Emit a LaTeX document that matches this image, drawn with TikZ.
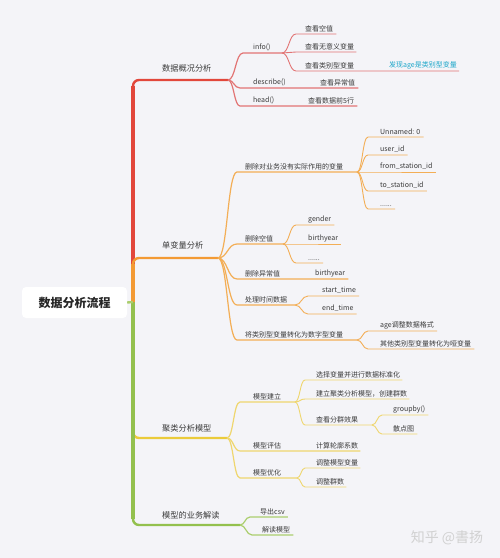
\documentclass[tikz,border=0pt]{standalone}
\usepackage{fontspec}
\setmainfont{Noto Sans CJK SC}
\usetikzlibrary{calc, positioning}
\definecolor{bgc}{HTML}{F4F4F8}
\definecolor{txtc}{HTML}{3A3A3A}
\definecolor{cRed}{HTML}{E2473B}
\definecolor{redL}{HTML}{E27474}
\definecolor{cOrange}{HTML}{F39A34}
\definecolor{orgL}{HTML}{F3AE56}
\definecolor{cYellow}{HTML}{EBCB3A}
\definecolor{yelL}{HTML}{EFD66E}
\definecolor{cGreen}{HTML}{93C04E}
\definecolor{grnL}{HTML}{ABCE6E}
\definecolor{cCyan}{HTML}{1BA6C9}
\tikzset{
    txt/.style={anchor=south west, inner xsep=0pt, inner ysep=2pt,
        font=\fontsize{7}{8}\selectfont, text=txtc},
    mainlbl/.style={anchor=west, inner sep=0pt,
        font=\fontsize{8.2}{9}\selectfont, text=txtc},
    rootbox/.style={fill=white, rounded corners=4pt, minimum width=105pt,
        minimum height=31pt, font=\fontsize{12}{13}\bfseries, text=black!85},
    trunk/.style={line width=2.4pt, rounded corners=6pt},
    spineV/.style={line width=3.8pt},
    brA/.style={line width=1.2pt, #1},
    brB/.style={line width=0.9pt, #1},
    sb/.style={to path={let \p1=(\tikztostart), \p2=(\tikztotarget) in
        .. controls (\x1/2+\x2/2,\y1) and (\x1/2+\x2/2,\y2) .. (\tikztotarget)}}
}

\begin{document}
\begin{tikzpicture}[x=1pt, y=-1pt]
    \fill[bgc] (0,0) rectangle (500,558);
    \useasboundingbox (0,0) rectangle (500,558);
    % spine
    \coordinate (sp) at (133,302);
    \coordinate (j1) at (228,80);
    \coordinate (j2) at (218,258);
    \coordinate (j3) at (227,438);
    \coordinate (j4) at (240,525);
    \draw[trunk, cYellow] (sp) |- (j3);
    \draw[trunk, cGreen] (sp) |- (j4);
    \draw[spineV, cGreen] (sp) -- ($(sp |- j4)+(0,-6)$);
    \draw[trunk, cRed] (sp) |- (j1);
    \draw[spineV, cRed] (sp) -- ($(sp |- j1)+(0,6)$);
    \draw[trunk, cOrange] (sp) |- (j2);
    \draw[spineV, cOrange] (sp) -- ($(sp |- j2)+(0,6)$);
    \node[rootbox] (root) at (74.5,302.5) {数据分析流程};
    \draw[line width=2.4pt, grnL] (root.east) -- (sp);
    \node[mainlbl] (m1) at (162,68) {数据概况分析};
    \node[mainlbl] (m2) at (162,245) {单变量分析};
    \node[mainlbl] (m3) at (162,428) {聚类分析模型};
    \node[mainlbl] (m4) at (162,515) {模型的业务解读};

    % 数据概况分析
    \node[txt] (info) at (253,53) {info()};
    \coordinate (info-j) at (282,53);
    \draw[brA=redL] (j1) to[sb] ([xshift=-10pt]info.south west) -- (info-j);
    \node[txt] (kong) at (305,34) {查看空值};
    \node[txt] (wuyi) at (305,52) {查看无意义变量};
    \node[txt] (leib) at (305,71) {查看类别型变量};
    \node[txt, text=cCyan] (age1) at (389,71) {发现age是类别型变量};
    \draw[brB=redL] (info-j) to[sb] ([xshift=-9pt]kong.south west) -- ([xshift=3pt]kong.south east);
    \draw[brB=redL] (info-j) to[sb] ([xshift=-9pt]wuyi.south west) -- ([xshift=2pt]wuyi.south east);
    \draw[brB=redL] (info-j) to[sb] ([xshift=-9pt]leib.south west) -- ([xshift=2pt]age1.south east);
    \node[txt] (desc) at (253,88) {describe()};
    \node[txt] (yic) at (320,88) {查看异常值};
    \draw[brA=redL] (j1) to[sb] ([xshift=-13pt]desc.south west) -- ([xshift=3pt]yic.south east);
    \node[txt] (head) at (253,106) {head()};
    \node[txt] (qian5) at (308,106) {查看数据前5行};
    \draw[brA=redL] (j1) to[sb] ([xshift=-13pt]head.south west) -- ([xshift=3pt]qian5.south east);

    % 单变量分析
    \node[txt] (o1) at (245,172) {删除对业务没有实际作用的变量};
    \coordinate (o1-j) at (357,172);
    \draw[brA=orgL] (j2) to[sb] ([xshift=-8pt]o1.south west) -- (o1-j);
    \node[txt] (unnamed) at (380,137) {Unnamed: 0};
    \node[txt] (userid) at (380,155) {user\_id};
    \node[txt] (fromid) at (380,172) {from\_station\_id};
    \node[txt] (toid) at (380,191) {to\_station\_id};
    \node[txt] (dots1) at (380,209) {......};
    \foreach \n in {unnamed, userid, fromid, toid, dots1}
        \draw[brB=orgL] (o1-j) to[sb] ([xshift=-12pt]\n.south west) -- ([xshift=3pt]\n.south east);
    \node[txt] (o2) at (245,244) {删除空值};
    \coordinate (o2-j) at (283,244);
    \draw[brA=orgL] (j2) to[sb] ([xshift=-8pt]o2.south west) -- (o2-j);
    \node[txt] (gender) at (308,225) {gender};
    \node[txt] (birth1) at (308,244) {birthyear};
    \node[txt] (dots2) at (308,263) {......};
    \foreach \n in {gender, birth1, dots2}
        \draw[brB=orgL] (o2-j) to[sb] ([xshift=-12pt]\n.south west) -- ([xshift=3pt]\n.south east);
    \node[txt] (o3) at (245,279) {删除异常值};
    \node[txt] (birth2) at (315,279) {birthyear};
    \draw[brA=orgL] (j2) to[sb] ([xshift=-8pt]o3.south west) -- ([xshift=3pt]birth2.south east);
    \node[txt] (o4) at (245,305) {处理时间数据};
    \coordinate (o4-j) at (295,305);
    \draw[brA=orgL] (j2) to[sb] ([xshift=-8pt]o4.south west) -- (o4-j);
    \node[txt] (stime) at (322,296) {start\_time};
    \node[txt] (etime) at (322,314) {end\_time};
    \foreach \n in {stime, etime}
        \draw[brB=orgL] (o4-j) to[sb] ([xshift=-14pt]\n.south west) -- ([xshift=3pt]\n.south east);
    \node[txt] (o5) at (245,340) {将类别型变量转化为数字型变量};
    \coordinate (o5-j) at (357,340);
    \draw[brA=orgL] (j2) to[sb] ([xshift=-8pt]o5.south west) -- (o5-j);
    \node[txt] (age2) at (380,331) {age调整数据格式};
    \node[txt] (dummy) at (380,349) {其他类别型变量转化为哑变量};
    \foreach \n in {age2, dummy}
        \draw[brB=orgL] (o5-j) to[sb] ([xshift=-12pt]\n.south west) -- ([xshift=3pt]\n.south east);

    % 聚类分析模型
    \node[txt] (y1) at (253,402) {模型建立};
    \coordinate (y1-j) at (295,402);
    \draw[brA=yelL] (j3) to[sb] ([xshift=-13pt]y1.south west) -- (y1-j);
    \node[txt] (std) at (316,380) {选择变量并进行数据标准化};
    \node[txt] (build) at (316,399) {建立聚类分析模型，创建群数};
    \foreach \n in {std, build}
        \draw[brB=yelL] (y1-j) to[sb] ([xshift=-11pt]\n.south west) -- ([xshift=2pt]\n.south east);
    \node[txt] (effect) at (316,425) {查看分群效果};
    \coordinate (eff-j) at (372,425);
    \draw[brB=yelL] (y1-j) to[sb] ([xshift=-11pt]effect.south west) -- (eff-j);
    \node[txt] (groupby) at (393,415) {groupby()};
    \node[txt] (scatter) at (393,434) {散点图};
    \foreach \n in {groupby, scatter}
        \draw[brB=yelL] (eff-j) to[sb] ([xshift=-11pt]\n.south west) -- ([xshift=3pt]\n.south east);
    \node[txt] (y2) at (253,451) {模型评估};
    \node[txt] (sil) at (316,451) {计算轮廓系数};
    \draw[brA=yelL] (j3) to[sb] ([xshift=-13pt]y2.south west) -- ([xshift=2pt]sil.south east);
    \node[txt] (y3) at (253,478) {模型优化};
    \coordinate (y3-j) at (297,478);
    \draw[brA=yelL] (j3) to[sb] ([xshift=-13pt]y3.south west) -- (y3-j);
    \node[txt] (tunevar) at (316,468) {调整模型变量};
    \node[txt] (tunek) at (316,487) {调整群数};
    \foreach \n in {tunevar, tunek}
        \draw[brB=yelL] (y3-j) to[sb] ([xshift=-11pt]\n.south west) -- ([xshift=2pt]\n.south east);

    % 模型的业务解读
    \node[txt] (csv) at (260,517) {导出csv};
    \node[txt] (read) at (262,535) {解读模型};
    \foreach \n in {csv, read}
        \draw[brA=grnL] (j4) to[sb] ([xshift=-10pt]\n.south west) -- ([xshift=3pt]\n.south east);

    \node[font=\fontsize{14}{15}\selectfont, text=black!18] (wm) at (447,538) {知乎 @書扬};
\end{tikzpicture}
\end{document}
